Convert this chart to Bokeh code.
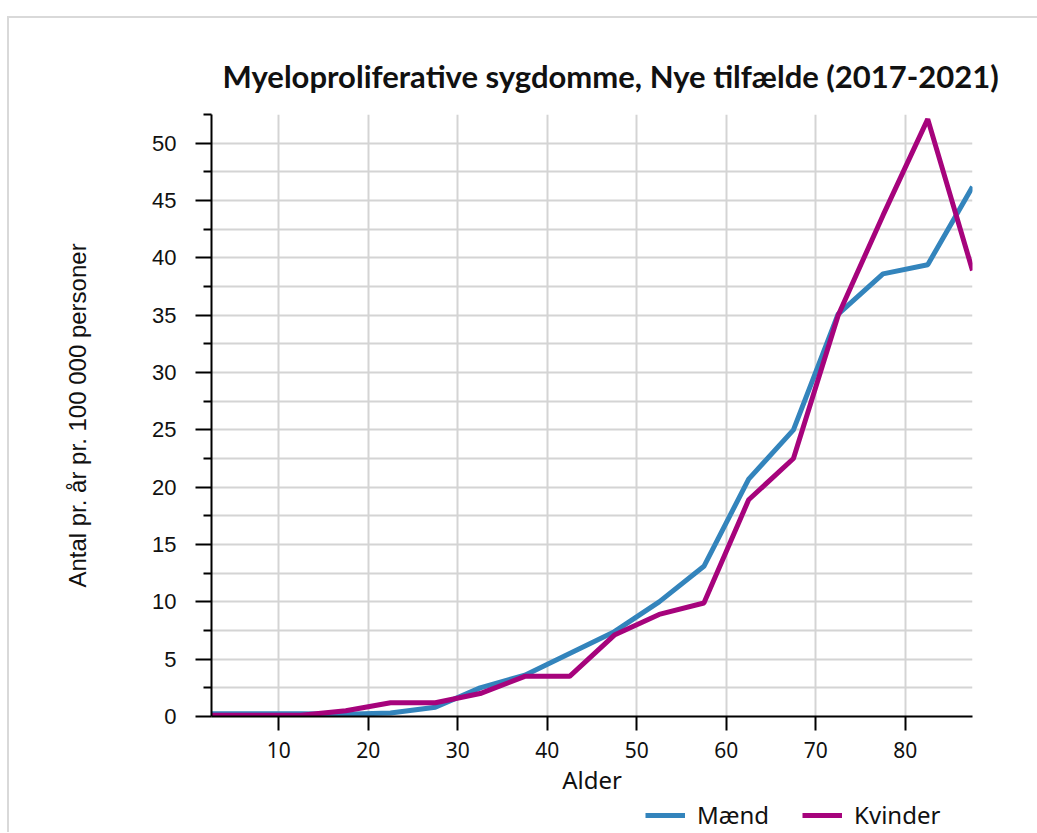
from bokeh.plotting import figure
from bokeh.layouts import column
from bokeh.models import Legend, LegendItem, FixedTicker, Range1d, Title
from bokeh.embed import file_html
from bokeh.resources import INLINE

ages = [2.5, 7.5, 12.5, 17.5, 22.5, 27.5, 32.5, 37.5, 42.5, 47.5, 52.5, 57.5,
        62.5, 67.5, 72.5, 77.5, 82.5, 87.5]
maend = [0.25, 0.25, 0.25, 0.2, 0.3, 0.8, 2.5, 3.6, 5.5, 7.4, 10.0, 13.1,
         20.7, 25.0, 35.1, 38.6, 39.4, 46.2]
kvinder = [0.1, 0.1, 0.1, 0.5, 1.2, 1.2, 2.0, 3.5, 3.5, 7.1, 8.9, 9.9,
           18.9, 22.5, 35.0, 43.7, 52.1, 38.9]
x_ticks = [10, 20, 30, 40, 50, 60, 70, 80]
y_ticks = [0, 5, 10, 15, 20, 25, 30, 35, 40, 45, 50]
y_minor = [2.5, 7.5, 12.5, 17.5, 22.5, 27.5, 32.5, 37.5, 42.5, 47.5, 52.5]

title = "Myeloproliferative sygdomme, Nye tilfælde (2017-2021)"
x_label = "Alder"
y_label = "Antal pr. år pr. 100 000 personer"
series_names = ["Mænd", "Kvinder"]
colors = ["#3384bc", "#a6037c"]

p = figure(frame_width=759, frame_height=600, output_backend="svg", toolbar_location=None,
           x_range=Range1d(2.5, 87.5), y_range=Range1d(0, 52.5),
           min_border_left=202, min_border_right=67, min_border_top=96,
           min_border_bottom=100, title=title)
p.styles = {"margin-top": "16px", "margin-left": "7px",
            "border-top": "2px solid #d9d9d9", "border-left": "2px solid #d9d9d9"}
p.outline_line_color = None
p.background_fill_color = "white"
p.border_fill_color = "white"

p.title.align = "left"
p.title.text_font = "Lato"
p.title.text_font_size = "31px"
p.title.text_font_style = "bold"
p.title.text_color = "#111111"
p.title.offset = 11
p.title.standoff = 40

yt = FixedTicker(ticks=y_ticks, minor_ticks=y_minor)
xt = FixedTicker(ticks=x_ticks, minor_ticks=[])
p.yaxis.ticker = yt
p.xaxis.ticker = xt
p.ygrid.ticker = yt
p.xgrid.ticker = xt
for g in (p.xgrid, p.ygrid):
    g.grid_line_color = "#d4d4d4"
    g.grid_line_width = 2
p.ygrid.minor_grid_line_color = "#d4d4d4"
p.ygrid.minor_grid_line_width = 2

for ax in (p.xaxis, p.yaxis):
    ax.axis_line_color = "black"
    ax.axis_line_width = 2
    ax.major_tick_line_color = "black"
    ax.major_tick_line_width = 2
    ax.major_tick_in = 0
    ax.minor_tick_in = 0
    ax.major_label_text_color = "#111111"
    ax.axis_label_text_color = "#111111"
    ax.axis_label_text_font_style = "normal"

p.yaxis.major_tick_out = 16
p.yaxis.minor_tick_out = 8
p.yaxis.minor_tick_line_color = "black"
p.yaxis.minor_tick_line_width = 2
p.yaxis.major_label_text_font = "Liberation Sans"
p.yaxis.major_label_text_font_size = "22px"
p.yaxis.major_label_standoff = 19
p.yaxis.axis_label = y_label
p.yaxis.axis_label_text_font = "Liberation Sans"
p.yaxis.axis_label_text_font_size = "24px"
p.yaxis.axis_label_standoff = 58

p.xaxis.major_tick_out = 14
p.xaxis.minor_tick_line_color = None
p.xaxis.major_label_text_font = "Noto Sans"
p.xaxis.major_label_text_font_size = "21px"
p.xaxis.major_label_standoff = 11

xlab = Title(text=x_label, align="center", text_font="Noto Sans",
             text_font_size="24px", text_font_style="normal",
             text_color="#111111", standoff=0)
p.add_layout(xlab, "below")

p.line(ages, maend, line_color=colors[0], line_width=5)
p.line(ages, kvinder, line_color=colors[1], line_width=5)

# Legend strip below the chart (a second, transparent figure)
p2 = figure(width=1028, height=40, output_backend="svg", toolbar_location=None,
            x_range=Range1d(2.5, 87.5), y_range=Range1d(1000, 1001),
            x_axis_location=None, y_axis_location=None, min_border=0)
p2.styles = {"margin-top": "-22px", "margin-left": "7px",
             "border-left": "2px solid #d9d9d9"}
p2.grid.visible = False
p2.outline_line_color = None
p2.background_fill_alpha = 0
p2.border_fill_alpha = 0
l1 = p2.line(ages, maend, line_color=colors[0], line_width=5)
l2 = p2.line(ages, kvinder, line_color=colors[1], line_width=5)

legend = Legend(items=[LegendItem(label=series_names[0], renderers=[l1]),
                       LegendItem(label=series_names[1], renderers=[l2])],
                orientation="horizontal", location=(434, 1))
legend.label_text_font = "Noto Sans"
legend.label_text_font_size = "24px"
legend.label_text_color = "#111111"
legend.label_standoff = 12
legend.glyph_width = 40
legend.glyph_height = 22
legend.spacing = 33
legend.padding = 2
legend.margin = 0
legend.border_line_color = None
legend.background_fill_alpha = 0
p2.add_layout(legend, "center")

layout = column(p, p2, spacing=0)
open("out.html", "w").write(file_html(layout, INLINE))
